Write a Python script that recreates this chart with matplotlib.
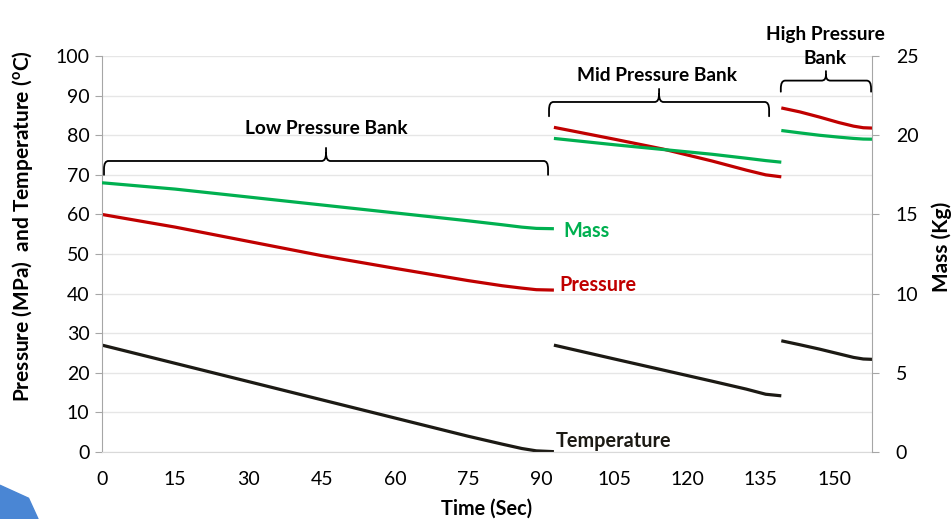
import numpy as np
import matplotlib
matplotlib.use("Agg")
import matplotlib.pyplot as plt
from matplotlib.path import Path
from matplotlib.patches import PathPatch, Polygon

plt.rcParams['font.family'] = ['Lato', 'DejaVu Sans']

# three banks: low, mid, high pressure
t_low = [0, 15, 30, 45, 60, 75, 82, 86, 89, 92.6]
p_low = [60, 56.8, 53.2, 49.6, 46.4, 43.3, 42.0, 41.4, 41.0, 40.9]
temp_low = [27, 22.4, 17.8, 13.2, 8.6, 4.0, 2.0, 0.9, 0.3, 0.1]
m_low = [17.0, 16.6, 16.1, 15.6, 15.1, 14.6, 14.35, 14.2, 14.12, 14.1]

t_mid = [92.6, 105, 115, 125, 132, 136, 139.2]
p_mid = [82, 79, 76.5, 73.5, 71.2, 70, 69.5]
temp_mid = [27, 23.5, 20.7, 17.9, 15.9, 14.6, 14.2]
m_mid = [19.8, 19.4, 19.1, 18.8, 18.55, 18.4, 18.3]

t_high = [139.2, 143, 147, 151, 154, 156, 158]
p_high = [86.9, 85.9, 84.6, 83.2, 82.3, 81.9, 81.8]
temp_high = [28.1, 27.1, 26.0, 24.8, 23.9, 23.5, 23.4]
m_high = [20.3, 20.15, 20.0, 19.88, 19.8, 19.76, 19.75]

bank_names = ['Low Pressure Bank', 'Mid Pressure Bank', 'High Pressure\nBank']

GREEN = '#00b050'
RED = '#c00000'
BLACK = '#1c1a14'
GRAY = '#a6a6a6'

fig = plt.figure(figsize=(9.51, 5.19), dpi=100)
ax = fig.add_axes([0.1073, 0.129, 0.8097, 0.763])
ax2 = ax.twinx()

lw = 2.3
for t, p, tc in [(t_low, p_low, temp_low), (t_mid, p_mid, temp_mid), (t_high, p_high, temp_high)]:
    ax.plot(t, p, color=RED, lw=lw, solid_capstyle='butt', solid_joinstyle='round')
    ax.plot(t, tc, color=BLACK, lw=lw, solid_capstyle='butt', solid_joinstyle='round')
for t, m in [(t_low, m_low), (t_mid, m_mid), (t_high, m_high)]:
    ax2.plot(t, m, color=GREEN, lw=lw, solid_capstyle='butt', solid_joinstyle='round')

ax.set_xlim(0, 157.8)
ax.set_ylim(0, 100)
ax2.set_ylim(0, 25)
ax.set_xticks(np.arange(0, 151, 15))
ax.set_yticks(np.arange(0, 101, 10))
ax2.set_yticks(np.arange(0, 26, 5))

ax.grid(axis='y', color='#e6e6e6', lw=1)
ax.set_axisbelow(True)
for a in (ax, ax2):
    a.spines['top'].set_visible(False)
    a.spines['left'].set_color(GRAY)
    a.spines['right'].set_color(GRAY)
    a.spines['bottom'].set_color('#d9d9d9')
ax.spines['right'].set_visible(False)
ax2.spines['left'].set_visible(False)
ax2.spines['bottom'].set_visible(False)

ax.tick_params(axis='y', length=5, color=GRAY, labelsize=14, pad=4)
ax.tick_params(axis='x', length=0, labelsize=14, pad=14)
ax2.tick_params(axis='y', length=5, color=GRAY, labelsize=14, pad=12)

ax.set_xlabel('Time (Sec)', fontsize=14.3, fontweight='bold', labelpad=7)
ax.set_ylabel('Pressure (MPa)  and Temperature ($\\mathregular{^o}$C)', fontsize=15,
              fontweight='bold')
ax.yaxis.set_label_coords(-0.087, 0.571)
ax2.set_ylabel('Mass (Kg)', fontsize=15, fontweight='bold')
ax2.yaxis.set_label_coords(1.0766, 0.518)

# series labels at the end of the low bank
ax.text(94.5, 55.8, 'Mass', color=GREEN, fontsize=14.3, fontweight='bold', va='center')
ax.text(93.8, 42.2, 'Pressure', color=RED, fontsize=14.3, fontweight='bold', va='center')
ax.text(93.0, 2.8, 'Temperature', color=BLACK, fontsize=14.3, fontweight='bold', va='center')


def brace(x0, x1, y_arm, y_bar, y_tip, r=0.9, rv=2.0):
    xm = (x0 + x1) / 2
    verts = [
        (x0, y_arm), (x0, y_bar - rv), (x0, y_bar), (x0 + r, y_bar),
        (xm - r, y_bar), (xm, y_bar), (xm, y_bar + (y_tip - y_bar) * 0.6), (xm, y_tip),
        (xm, y_bar + (y_tip - y_bar) * 0.6), (xm, y_bar), (xm + r, y_bar),
        (x1 - r, y_bar), (x1, y_bar), (x1, y_bar - rv), (x1, y_arm),
    ]
    codes = [Path.MOVETO, Path.LINETO, Path.CURVE3, Path.CURVE3,
             Path.LINETO, Path.CURVE3, Path.CURVE3, Path.LINETO,
             Path.MOVETO, Path.CURVE3, Path.CURVE3,
             Path.LINETO, Path.CURVE3, Path.CURVE3, Path.LINETO]
    ax.add_patch(PathPatch(Path(verts, codes), fill=False, color='black', lw=1.3,
                           clip_on=False, capstyle='round'))


brace(0.4, 91.4, 70.0, 73.5, 76.8)
brace(91.6, 136.7, 84.8, 88.4, 91.7)
brace(139.1, 157.6, 91.0, 93.8, 96.2)

ax.text(46, 81.7, bank_names[0], fontsize=13.8, fontweight='bold', ha='center', va='center')
ax.text(113.7, 95.0, bank_names[1], fontsize=13.8, fontweight='bold', ha='center', va='center')
ax.text(148.2, 102.4, bank_names[2], fontsize=13.8, fontweight='bold', ha='center', va='center',
        linespacing=1.55, clip_on=False)

# blue shape in the lower left corner
fig.patches.append(Polygon([[0.0, 0.065], [0.03, 0.04], [0.04, 0.0], [0.0, 0.0]],
                           closed=True, transform=fig.transFigure, color='#4a86d4'))

fig.savefig('out.png', dpi=100)
